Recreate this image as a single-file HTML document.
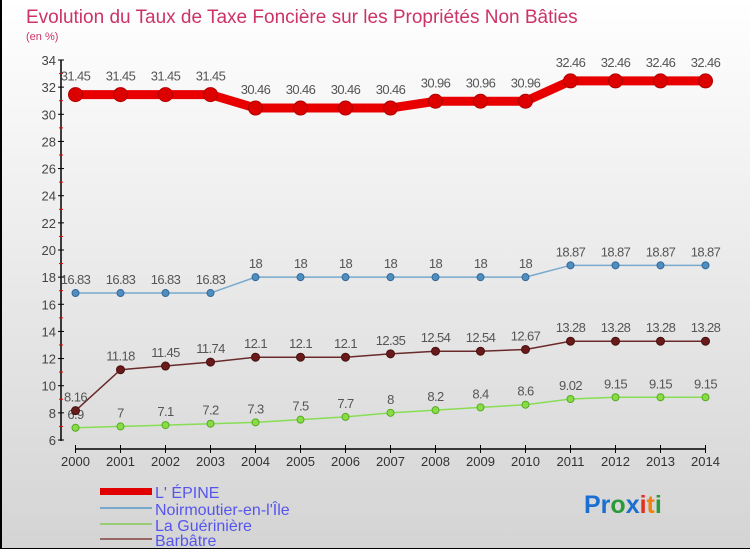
<!DOCTYPE html>
<html><head><meta charset="utf-8"><style>
body{margin:0;width:750px;height:550px;overflow:hidden}
#wrap{position:relative;width:748px;height:548px;border:1px solid #000;border-top:none;border-left:2px solid #000;box-sizing:content-box;background:linear-gradient(#ffffff,#d4d4d4);font-family:"Liberation Sans",sans-serif}
</style></head><body>
<div id="wrap">
<svg id="c" width="748" height="548" style="position:absolute;left:-2px;top:0">
<text x="26" y="23" font-size="19" fill="#cc3366">Evolution du Taux de Taxe Foncière sur les Propriétés Non Bâties</text>
<text x="26" y="40" font-size="11" fill="#cc3366">(en %)</text>
<g id="axes"></g><g id="series"></g>
<g>
<rect x="100" y="488" width="52" height="7" fill="#e00000"/>
<text x="155" y="498" font-size="16" fill="#5555ee">L' ÉPINE</text>
<rect x="100" y="507" width="52" height="2" fill="#77a9cc"/>
<text x="155" y="515" font-size="16" fill="#5555ee">Noirmoutier-en-l'Île</text>
<rect x="100" y="523" width="52" height="2" fill="#99cc77"/>
<text x="155" y="531" font-size="16" fill="#5555ee">La Guérinière</text>
<rect x="100" y="538" width="52" height="2" fill="#996666"/>
<text x="155" y="546" font-size="16" fill="#5555ee">Barbâtre</text>
</g>
<text x="584" y="513" font-size="25" font-weight="bold"><tspan fill="#1a6fd0">Pr</tspan><tspan fill="#2a9a3a">o</tspan><tspan fill="#1a6fd0">x</tspan><tspan fill="#e03020">i</tspan><tspan fill="#f08010">t</tspan><tspan fill="#2a9a3a">i</tspan></text>
</svg></div>
<script>
const years=[2000,2001,2002,2003,2004,2005,2006,2007,2008,2009,2010,2011,2012,2013,2014];
const yTicks=[6,8,10,12,14,16,18,20,22,24,26,28,30,32,34];
const lepine=[31.45,31.45,31.45,31.45,30.46,30.46,30.46,30.46,30.96,30.96,30.96,32.46,32.46,32.46,32.46];
const noirmoutier=[16.83,16.83,16.83,16.83,18,18,18,18,18,18,18,18.87,18.87,18.87,18.87];
const gueriniere=[6.9,7,7.1,7.2,7.3,7.5,7.7,8,8.2,8.4,8.6,9.02,9.15,9.15,9.15];
const barbatre=[8.16,11.18,11.45,11.74,12.1,12.1,12.1,12.35,12.54,12.54,12.67,13.28,13.28,13.28,13.28];
const X=i=>75.5+i*45, Y=v=>440-(v-6)*(380/28);
const NS="http://www.w3.org/2000/svg";
function mk(t,a,p){const e=document.createElementNS(NS,t);for(const k in a)e.setAttribute(k,a[k]);p.appendChild(e);return e;}
const ax=document.getElementById('axes');
let l=mk('line',{x1:61,y1:60,x2:61,y2:441,stroke:'#000','stroke-width':1.5},ax);


l=mk('line',{x1:75,y1:449,x2:706,y2:449,stroke:'#000','stroke-width':1.5},ax);


yTicks.forEach(v=>{
 mk('line',{x1:58,x2:64,y1:Y(v),y2:Y(v),stroke:'#000'},ax);
 if(v<34)mk('line',{x1:59,x2:63,y1:Y(v+1),y2:Y(v+1),stroke:'#e00'},ax);
 const t=mk('text',{x:56,y:Y(v)+5,'text-anchor':'end','font-size':13,fill:'#444'},ax);t.textContent=v;
 
 
});
years.forEach((yr,i)=>{
 mk('line',{x1:X(i),x2:X(i),y1:445,y2:453,stroke:'#000'},ax);
 const t=mk('text',{x:X(i),y:466,'text-anchor':'middle','font-size':13,fill:'#333'},ax);t.textContent=yr;
 
 
});
const sg=document.getElementById('series');
function draw(name,vals,color,dot,stroke,w,r,lblOff){
 const g=mk('g',{},sg);
 
 
 const pl=mk('polyline',{points:vals.map((v,i)=>X(i)+','+Y(v)).join(' '),fill:'none',stroke:color,'stroke-width':w},g);
 
 
 vals.forEach((v,i)=>{
  const c=mk('circle',{cx:X(i),cy:Y(v),r:r,fill:dot,stroke:stroke,'stroke-width':1},g);
  
  
  const t=mk('text',{x:X(i),y:Y(v)-lblOff,'text-anchor':'middle','font-size':13,fill:'#555','letter-spacing':'-0.6'},g);t.textContent=v;
  
  
 });
}
draw('lepine',lepine,'#e80000','#dd0000','#b00000',9,7,14);
draw('noirmoutier',noirmoutier,'#77a9cc','#4f8fc0','#336699',1.5,3.5,9);
draw('gueriniere',gueriniere,'#88dd55','#88dd44','#55aa22',1.5,3.5,9);
draw('barbatre',barbatre,'#6a2a2a','#6a1a1a','#441010',1.5,4,9);
</script>
</body></html>
